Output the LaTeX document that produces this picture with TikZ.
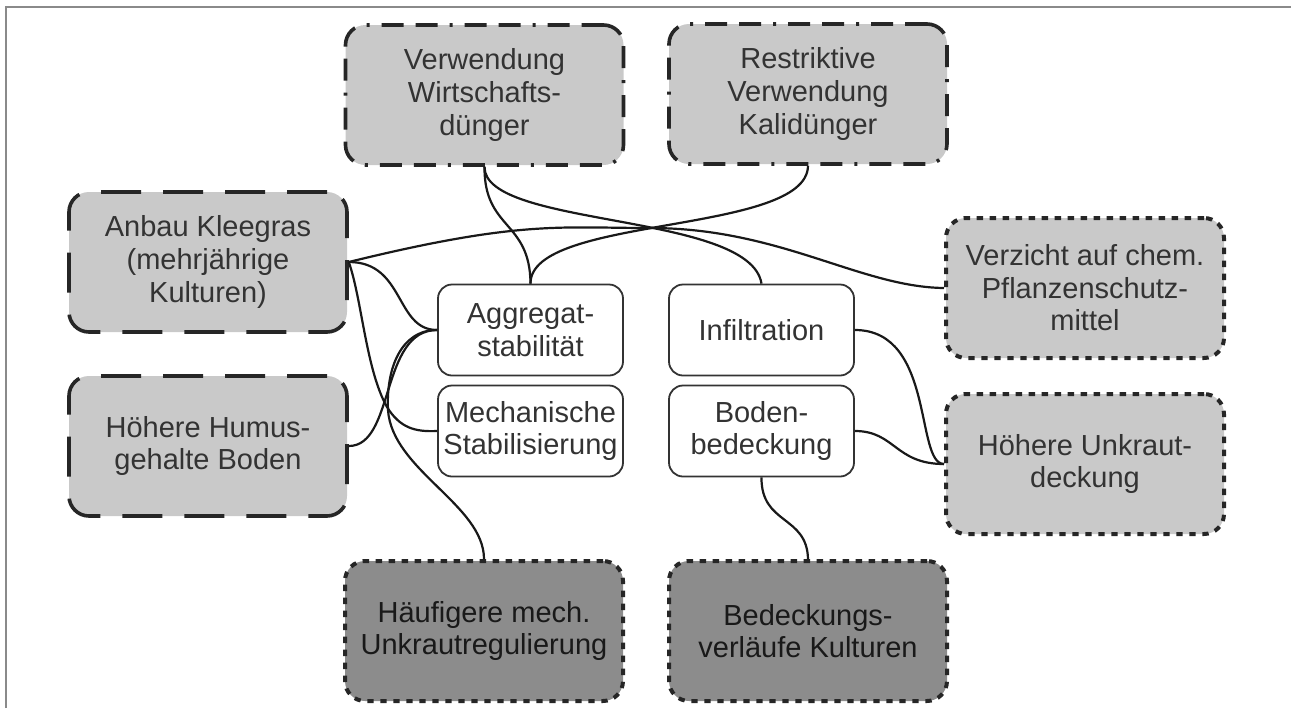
\documentclass[tikz,border=0pt]{standalone}
\usepackage{fontspec}
\setmainfont{Liberation Sans}
\usepackage{tikz}

\definecolor{hellgrau}{HTML}{C9C9C9}
\definecolor{dunkelgrau}{HTML}{8C8C8C}
\definecolor{rahmen}{HTML}{8A8A8A}

\begin{document}
\begin{tikzpicture}[x=0.5pt, y=-0.5pt,
    box/.style={rounded corners=10pt, minimum width=139pt, minimum height=70pt,
        align=center, inner sep=0pt, draw=black!85, text=black!80,
        font=\fontsize{14.5}{16.3}\selectfont},
    strich/.style={box, fill=hellgrau, line width=1.8pt, dash pattern=on 20pt off 11pt},
    strichpunkt/.style={box, fill=hellgrau, line width=1.8pt,
        dash pattern=on 11pt off 6pt on 11pt off 6pt on 1.5pt off 6pt},
    punkt/.style={box, fill=hellgrau, line width=2pt, dash pattern=on 3.2pt off 3.3pt},
    punktdunkel/.style={punkt, fill=dunkelgrau, text=black!90},
    wirkung/.style={rounded corners=7pt, minimum width=92.5pt, minimum height=45.5pt,
        align=center, inner sep=0pt, draw=black!80, line width=0.9pt, fill=white,
        text=black!80, font=\fontsize{14.5}{16.3}\selectfont},
    verb/.style={line width=1.1pt, black!90}]

    \useasboundingbox (0,0) rectangle (1291,708);
    \draw[rahmen, line width=0.6pt] (6,708) -- (6,7) -- (1291,7);

    \node[strichpunkt] (verw) at (484.5,95) {Verwendung\\Wirtschafts-\\dünger};
    \node[strichpunkt] (restr) at (808,94) {Restriktive\\Verwendung\\Kalidünger};
    \node[strich] (klee) at (208,262) {Anbau Kleegras\\(mehrjährige\\Kulturen)};
    \node[strich] (humus) at (208,446) {Höhere Humus-\\gehalte Boden};
    \node[punkt] (verz) at (1085,288) {Verzicht auf chem.\\Pflanzenschutz-\\mittel};
    \node[punkt] (unkr) at (1085,464) {Höhere Unkraut-\\deckung};
    \node[punktdunkel] (haeuf) at (484,631) {Häufigere mech.\\Unkrautregulierung};
    \node[punktdunkel] (bedv) at (808,631) {Bedeckungs-\\verläufe Kulturen};

    \node[wirkung] (aggr) at (530.5,330) {Aggregat-\\stabilität};
    \node[wirkung] (mech) at (530.5,431) {Mechanische\\Stabilisierung};
    \node[wirkung] (infil) at (761.5,330) {Infiltration};
    \node[wirkung] (boden) at (761.5,431) {Boden-\\bedeckung};

    \draw[verb] (verw.south) .. controls (484,228) and (750,212) .. (infil.north);
    \draw[verb] (verw.south) .. controls (484,230) and (530,220) .. (aggr.north);
    \draw[verb] (restr.south) .. controls (807,235) and (530,215) .. (aggr.north);
    \draw[verb] (klee.east) .. controls (520,220) and (560,228) .. (650,228)
        .. controls (780,228) and (860,287) .. (verz.west);
    \draw[verb] (klee.east) .. controls (405,262) and (395,330) .. (aggr.west);
    \draw[verb] (klee.east) .. controls (362,300) and (366,370) .. (387,407)
        .. controls (400,428) and (415,432) .. (mech.west);
    \draw[verb] (humus.east) .. controls (395,446) and (380,330) .. (aggr.west);
    \draw[verb] (haeuf.north) .. controls (484,505) and (392,470) .. (388,410)
        .. controls (386,370) and (400,330) .. (aggr.west);
    \draw[verb] (infil.east) .. controls (935,330) and (915,464) .. (unkr.west);
    \draw[verb] (boden.east) .. controls (895,431) and (895,464) .. (unkr.west);
    \draw[verb] (boden.south) .. controls (761,525) and (807,515) .. (bedv.north);
\end{tikzpicture}
\end{document}
